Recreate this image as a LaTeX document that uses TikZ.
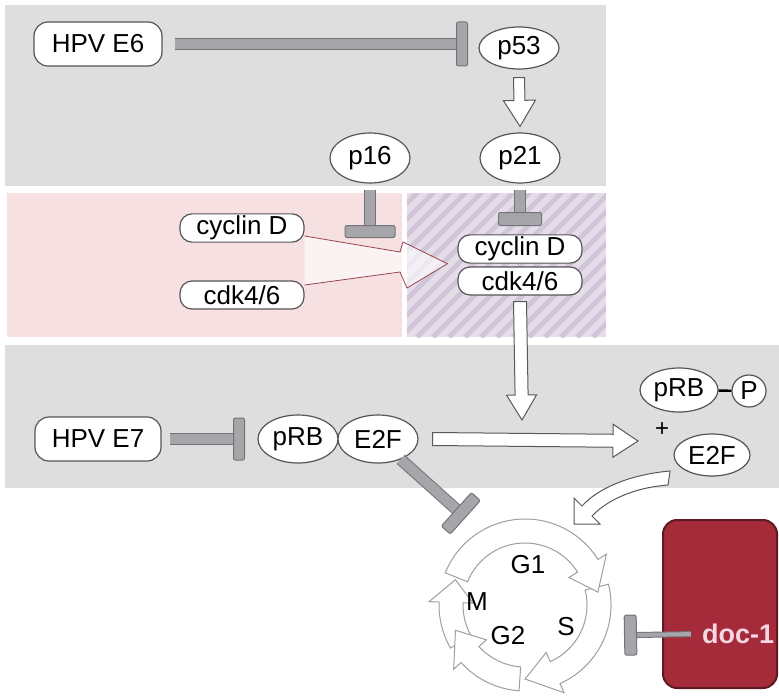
\documentclass[tikz,border=0pt]{standalone}
\usepackage{fontspec}
\setmainfont{Liberation Sans}
\usetikzlibrary{calc,shapes.geometric}

\definecolor{bandgray}{RGB}{222,222,222}
\definecolor{pinkbg}{RGB}{246,224,226}
\definecolor{hatchbg}{RGB}{229,221,233}
\definecolor{hatchln}{RGB}{208,198,216}
\definecolor{inhfill}{RGB}{165,165,170}
\definecolor{inhedge}{RGB}{115,115,120}
\definecolor{nodeedge}{RGB}{85,85,85}
\definecolor{funnel}{RGB}{150,70,80}
\definecolor{docred}{RGB}{165,42,58}
\definecolor{docdark}{RGB}{95,25,35}
\definecolor{docpink}{RGB}{245,215,225}

\newcommand\hollowarrow[5]{%
  \coordinate (ha) at (#1);
  \coordinate (hb) at (#2);
  \coordinate (hh) at ($(hb)!#5!(ha)$);
  \draw[hollow] ($(ha)!#3!90:(hb)$) -- ($(hh)!#3!-90:(ha)$) -- ($(hh)!#4!-90:(ha)$) -- (hb)
    -- ($(hh)!#4!90:(ha)$) -- ($(hh)!#3!90:(ha)$) -- ($(ha)!#3!-90:(hb)$) -- cycle;}

\newcommand\inhibit[6][0pt]{%
  \draw[inhshaft,double distance=#4,shorten <=#1] (#2) -- (#3);
  \path let \p1=($(#3)-(#2)$), \n1={atan2(\y1,\x1)} in
    (#3) node[inhbar,rotate=\n1,minimum width=#6,minimum height=#5] (#3-t) {};}

\begin{document}
\begin{tikzpicture}[x=.5pt,y=-.5pt,font=\fontsize{13pt}{15pt}\selectfont,
  box/.style={draw=nodeedge,fill=white,line width=.6pt,rounded corners=7pt,minimum height=22pt,inner sep=2pt},
  pill/.style={draw=nodeedge,fill=white,line width=.6pt,rounded corners=6pt,minimum width=62pt,minimum height=14pt,inner sep=1pt},
  oval/.style={ellipse,draw=nodeedge,fill=white,line width=.6pt,inner sep=0pt},
  hollow/.style={draw=gray!70!black,fill=white,line width=.5pt,line join=miter},
  inhshaft/.style={draw=inhedge,double=inhfill,line width=.5pt,line cap=butt},
  inhbar/.style={draw=inhedge,fill=inhfill,line width=.5pt,inner sep=0pt,anchor=west,rounded corners=1pt},
  ring/.style={draw=gray!75,fill=white,line width=.5pt},
  funnelarr/.style={draw=funnel,line width=.4pt,fill=white,fill opacity=.6},
  docbox/.style={draw=docdark,fill=docred,line width=1pt,rounded corners=7pt},
  doctext/.style={text=docpink,font=\fontsize{13.5pt}{15pt}\selectfont\bfseries}]
  \useasboundingbox (0,0) rectangle (779,695);
  \fill[white] (0,0) rectangle (779,695);
  \fill[bandgray] (5,5) rectangle (606,186);
  \fill[pinkbg] (7,193) rectangle (402,337);
  \begin{scope}
    \clip (407,193) rectangle (606,337);
    \fill[hatchbg] (407,193) rectangle (606,337);
    \foreach \i in {0,...,23}
      \draw[hatchln,line width=2.5pt] ({257+\i*16},337) -- ++(150,-150);
  \end{scope}
  \fill[bandgray] (5,345) rectangle (779,488);

  \node[box,minimum width=64pt] (e6) at (98,44) {HPV E6};
  \node[oval,minimum width=40pt,minimum height=21pt] (p53) at (519,48) {p53};
  \node[oval,minimum width=40pt,minimum height=25pt] (p21) at (520,158) {p21};
  \node[oval,minimum width=40pt,minimum height=25pt] (p16) at (370,158) {p16};
  \node[pill] (cycL) at (242,228) {cyclin D};
  \node[pill] (cdkL) at (242,295) {cdk4/6};
  \node[pill] (cycR) at (520,249) {cyclin D};
  \node[pill] (cdkR) at (520,281) {cdk4/6};
  \node[box,minimum width=63pt] (e7) at (98,439) {HPV E7};
  \node[oval,minimum width=40pt,minimum height=24pt] (prb) at (298,439) {pRB};
  \node[oval,minimum width=40pt,minimum height=24pt] (e2f) at (378,439) {E2F};
  \node[oval,minimum width=39pt,minimum height=22pt] (prbP) at (679,390) {pRB};
  \node[oval,minimum width=17pt,minimum height=16pt] (phos) at (749,391) {P};
  \node[font=\fontsize{12pt}{14pt}\selectfont] (plus) at (662,430) {+};
  \node[oval,minimum width=38pt,minimum height=21pt] (e2fR) at (712,455) {E2F};
  \draw[line width=1.2pt] (prbP) -- (phos);

  \coordinate (e6bar) at (456,44);
  \coordinate (p16bar) at (370,225);
  \coordinate (p21bar) at (520,212);
  \coordinate (e7bar) at (233,439);
  \coordinate (rbbar) at (456,509);
  \coordinate (docbar) at (637,635);
  \coordinate (cdkdn) at (522,420);
  \coordinate (relz) at (638,441);
  \coordinate (cytip) at (574,524);

  \inhibit[6pt]{e6}{e6bar}{5pt}{22pt}{5.5pt}
  \inhibit[3pt]{p16}{p16bar}{5pt}{25pt}{6pt}
  \inhibit[3pt]{p21}{p21bar}{5pt}{21.5pt}{6.5pt}
  \inhibit[4pt]{e7}{e7bar}{5pt}{21pt}{5.5pt}
  \inhibit{e2f}{rbbar}{5pt}{22.5pt}{6pt}

  \hollowarrow{[yshift=-4pt]p53.south}{[yshift=3pt]p21.north}{2.75pt}{8pt}{13pt}
  \hollowarrow{[yshift=-3pt]cdkR.south}{cdkdn}{3.25pt}{7.5pt}{12.5pt}
  \hollowarrow{[xshift=7pt]e2f.east}{relz}{3.25pt}{8.25pt}{12.5pt}
  \draw[funnelarr] ([yshift=-4pt]cycL.east) -- (400,252) -- (403,242) -- ([xshift=-5pt]cycR.south west)
    -- (407,288) -- (400,272) -- ([yshift=5pt]cdkL.east);

  \begin{scope}[shift={(525,605)},yscale=-1]
    \foreach \a/\b/\c in {-150/-182/-200,-94/-138/-160,14/-66/-90,158/32/10}
      \draw[ring] (\a:86) arc[start angle=\a,end angle=\b,radius=86] -- (\b:96) -- (\c:74)
        -- (\b:52) -- (\b:62) arc[start angle=\b,end angle=\a,radius=62] -- cycle;
  \end{scope}
  \foreach \nm/\x/\y/\t in {g1/528/565/G1,m/477/602/M,s/566/627/S,g2/508/636/G2}
    \node (\nm) at (\x,\y) {\t};
  \draw[hollow] (670,471) .. controls (635,474) and (600,486) .. (582,506) -- (574,498) -- (cytip)
    -- (600,524) -- (592,516) .. controls (610,497) and (640,487) .. (668,485) -- cycle;

  \node[docbox,minimum width=57pt,minimum height=84pt] (doc) at (720,604) {};
  \node[doctext] (doclab) at (738,634) {doc-1};
  \inhibit[2pt]{doclab.west}{docbar}{2pt}{20pt}{6pt}
\end{tikzpicture}
\end{document}
